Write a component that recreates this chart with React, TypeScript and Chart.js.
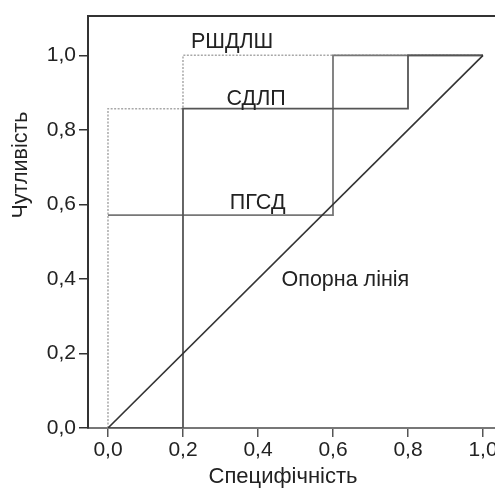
import React, { useEffect, useRef } from "react";
import { Chart, registerables } from "chart.js";

Chart.register(...registerables);

// Tick values
const xTicks = [0, 0.2, 0.4, 0.6, 0.8, 1.0];
const yTicks = [0, 0.2, 0.4, 0.6, 0.8, 1.0];

// Axis ranges
const xMin = -0.0533;
const xMax = 1.12;
const yMin = 0;
const yMax = 1.1067;

// Curves (x as drawn, y = sensitivity)
const refX = [0, 1];
const refY = [0, 1];
const sdlpX = [0, 0.2, 0.2, 0.8, 0.8, 1];
const sdlpY = [0, 0, 0.857, 0.857, 1, 1];
const pgsdX = [0, 0.6, 0.6, 1];
const pgsdY = [0.571, 0.571, 1, 1];
const rshX = [0, 0, 0.2, 0.2, 1];
const rshY = [0, 0.857, 0.857, 1, 1];

// In-plot labels
const labelTexts = ["РШДЛШ", "СДЛП", "ПГСД", "Опорна лінія"];
const labelX = [0.331, 0.395, 0.399, 0.633];
const labelY = [1.035, 0.884, 0.604, 0.396];

const xTitle = "Специфічність";
const yTitle = "Чутливість";

const FONT = '"Liberation Sans", Arial, Helvetica, sans-serif';

export default function App() {
  const ref = useRef<HTMLCanvasElement>(null);

  useEffect(() => {
    const canvas = ref.current!;
    const pts = (xs: number[], ys: number[]) => xs.map((x, i) => ({ x, y: ys[i] }));
    const fmt = (v: any) => Number(v).toFixed(1).replace(".", ",");

    const textPlugin = {
      id: "texts",
      afterDatasetsDraw(chart: any) {
        const { ctx, scales } = chart;
        ctx.save();
        ctx.fillStyle = "#222";
        ctx.font = `21.5px ${FONT}`;
        ctx.textAlign = "center";
        ctx.textBaseline = "middle";
        labelTexts.forEach((t, i) => {
          ctx.fillText(t, scales.x.getPixelForValue(labelX[i]), scales.y.getPixelForValue(labelY[i]));
        });
        ctx.restore();
      },
      afterDraw(chart: any) {
        const { ctx } = chart;
        ctx.save();
        ctx.fillStyle = "#222";
        ctx.textAlign = "center";
        ctx.textBaseline = "middle";
        ctx.font = `22px ${FONT}`;
        ctx.fillText(xTitle, 283, 477);
        ctx.font = `21.5px ${FONT}`;
        ctx.translate(21, 165);
        ctx.rotate(-Math.PI / 2);
        ctx.fillText(yTitle, 0, 0);
        ctx.restore();
      },
    };

    const chart = new Chart(canvas, {
      type: "line",
      data: {
        datasets: [
          { label: "Опорна лінія", data: pts(refX, refY), borderColor: "#333", borderWidth: 1.6 },
          { label: "СДЛП", data: pts(sdlpX, sdlpY), borderColor: "#555", borderWidth: 1.8 },
          { label: "ПГСД", data: pts(pgsdX, pgsdY), borderColor: "#777", borderWidth: 1.8 },
          {
            label: "РШДЛШ",
            data: pts(rshX, rshY),
            borderColor: "#a8a8a8",
            borderWidth: 1.5,
            borderDash: [2, 1.5],
          },
        ],
      },
      options: {
        animation: false,
        responsive: false,
        devicePixelRatio: 1,
        layout: { padding: { left: 0, top: 13, right: 12, bottom: 0 } },
        elements: {
          point: { radius: 0, hoverRadius: 0 },
          line: { tension: 0, fill: false },
        },
        plugins: {
          legend: { display: false },
          tooltip: { enabled: false },
          title: { display: false },
        },
        scales: {
          x: {
            type: "linear",
            position: "bottom",
            min: xMin,
            max: xMax,
            afterBuildTicks: (s: any) => {
              s.ticks = xTicks.map((v) => ({ value: v }));
            },
            afterFit: (s: any) => {
              s.height = 61;
            },
            grid: {
              display: true,
              drawOnChartArea: false,
              drawTicks: true,
              tickLength: 9,
              color: "#555",
              lineWidth: 1.5,
            },
            border: { display: true, color: "#777", width: 2 },
            ticks: {
              color: "#222",
              font: { family: FONT, size: 21 },
              padding: 1,
              maxRotation: 0,
              autoSkip: false,
              callback: (v: any) => fmt(v),
            },
          },
          x2: {
            type: "linear",
            position: "top",
            min: xMin,
            max: xMax,
            grid: { display: false },
            ticks: { display: false },
            border: { display: true, color: "#333", width: 2 },
            afterFit: (s: any) => {
              s.height = 0;
            },
          },
          y: {
            type: "linear",
            position: "left",
            min: yMin,
            max: yMax,
            afterBuildTicks: (s: any) => {
              s.ticks = yTicks.map((v) => ({ value: v }));
            },
            afterFit: (s: any) => {
              s.width = 88;
            },
            grid: {
              display: true,
              drawOnChartArea: false,
              drawTicks: true,
              tickLength: 9,
              color: "#333",
              lineWidth: 1.5,
            },
            border: { display: true, color: "#333", width: 2 },
            ticks: {
              color: "#222",
              font: { family: FONT, size: 21 },
              padding: 3,
              autoSkip: false,
              callback: (v: any) => fmt(v),
            },
          },
        },
      } as any,
      plugins: [textPlugin],
    });
    return () => chart.destroy();
  }, []);

  return (
    <div
      style={{
        position: "absolute",
        left: 0,
        top: 0,
        width: 495,
        height: 489,
        overflow: "hidden",
        background: "#fff",
      }}
    >
      <canvas ref={ref} width={540} height={489} style={{ display: "block", width: 540, height: 489 }} />
    </div>
  );
}
